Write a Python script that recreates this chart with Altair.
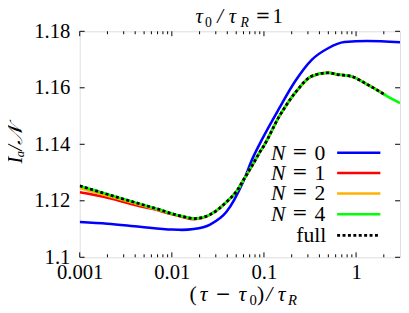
import altair as alt
import pandas as pd

# ---- data ----
full_x = [0.001, 0.002, 0.0045, 0.0075, 0.0101, 0.013, 0.0175, 0.026, 0.039, 0.052, 0.059,
          0.0755, 0.089, 0.1, 0.145, 0.219, 0.33, 0.497, 0.63, 0.88, 1.32, 1.99, 2.08]
full_y = [1.1253, 1.1223, 1.1189, 1.1168, 1.1154, 1.1145, 1.1137, 1.1151, 1.1195, 1.1240, 1.1270,
          1.1328, 1.1369, 1.1395, 1.1496, 1.1583, 1.1641, 1.1653, 1.1647, 1.1641, 1.1612, 1.1578, 1.1574]

n4_x = full_x + [3.0]
n4_y = full_y + [1.1546]

n2_x = [0.001, 0.002, 0.0045, 0.0075, 0.0101] + full_x[5:]
n2_y = [1.1245, 1.1218, 1.1186, 1.1166, 1.1153] + full_y[5:]

n1_x = [0.001, 0.002, 0.0045, 0.0075, 0.0101, 0.013, 0.0175] + full_x[7:]
n1_y = [1.1230, 1.1211, 1.1181, 1.1164, 1.1152, 1.1143, 1.1135] + full_y[7:]

n0_x = [0.001, 0.002, 0.0045, 0.0101, 0.013, 0.0172, 0.026, 0.039, 0.059, 0.0755,
        0.0966, 0.145, 0.219, 0.33, 0.497, 0.746, 1.32, 3.0]
n0_y = [1.1125, 1.1119, 1.1108, 1.1098, 1.1097, 1.1100, 1.1116, 1.1160, 1.1265, 1.1351,
        1.1421, 1.1525, 1.1624, 1.1699, 1.1740, 1.1762, 1.1766, 1.1761]

x_major = [0.001, 0.01, 0.1, 1]
x_minor = [m * d for d in [0.001, 0.01, 0.1, 1] for m in range(2, 10) if m * d < 2.9]
y_major = [1.1, 1.12, 1.14, 1.16, 1.18]

legend_digits = ["0", "1", "2", "4"]
legend_colors = ["#0000ff", "#ff0000", "#ffb000", "#00ff00"]

W, H = 326, 230
FONT = "Liberation Serif, Times New Roman, DejaVu Serif, serif"
SYM = "DejaVu Serif, serif"
FS = 21

xscale = alt.Scale(type="log", domain=[0.001, 3], nice=False)
yscale = alt.Scale(domain=[1.1, 1.18], nice=False, zero=False)


def line(xs, ys, color, width, dash=None, axes=False):
    df = pd.DataFrame({"x": xs, "y": ys})
    kw = dict(color=color, strokeWidth=width, interpolate="monotone", clip=True)
    if dash:
        kw["strokeDash"] = dash
    if axes:
        xenc = alt.X("x:Q", scale=xscale, axis=alt.Axis(
            values=x_major, format="~g", ticks=False, domain=False, grid=False,
            labelFont=FONT, labelFontSize=FS, labelColor="black", labelPadding=5,
            labelFlush=False, title=None))
        yenc = alt.Y("y:Q", scale=yscale, axis=alt.Axis(
            values=y_major, format="~g", ticks=False, domain=False, grid=False,
            labelFont=FONT, labelFontSize=FS, labelColor="black", labelPadding=10,
            labelFlush=False, title=None))
    else:
        xenc = alt.X("x:Q", scale=xscale)
        yenc = alt.Y("y:Q", scale=yscale)
    return alt.Chart(df).mark_line(**kw).encode(x=xenc, y=yenc, order=alt.Order("x:Q"))


layers = [
    line(n0_x, n0_y, "#0000ff", 2.6, axes=True),
    line(n1_x, n1_y, "#ff0000", 2.6),
    line(n2_x, n2_y, "#ffb000", 2.6),
    line(n4_x, n4_y, "#00ff00", 2.6),
    line(full_x, full_y, "black", 2.8, dash=[3, 2.5]),
]

# inward ticks
def xticks(vals, length):
    df = pd.DataFrame({"t": vals})
    bot = alt.Chart(df).mark_rule(color="black", strokeWidth=1).encode(
        x=alt.X("t:Q", scale=xscale), y=alt.value(H), y2=alt.value(H - length))
    top = alt.Chart(df).mark_rule(color="black", strokeWidth=1).encode(
        x=alt.X("t:Q", scale=xscale), y=alt.value(0), y2=alt.value(length))
    return [bot, top]

ydf = pd.DataFrame({"v": y_major})
yt_left = alt.Chart(ydf).mark_rule(color="black", strokeWidth=1).encode(
    y=alt.Y("v:Q", scale=yscale), x=alt.value(0), x2=alt.value(5))
yt_right = alt.Chart(ydf).mark_rule(color="black", strokeWidth=1).encode(
    y=alt.Y("v:Q", scale=yscale), x=alt.value(W), x2=alt.value(W - 5))

layers += xticks(x_major, 5) + xticks(x_minor, 3) + [yt_left, yt_right]


def txt(s, x, y, size=FS, style="normal", align="center", baseline="alphabetic",
        angle=0, font=FONT):
    kw = dict(font=font, fontSize=size, fontStyle=style, align=align,
              baseline=baseline, color="black")
    if angle:
        kw["angle"] = angle
    return alt.Chart(pd.DataFrame({"s": [s]})).mark_text(**kw).encode(
        text="s:N", x=alt.value(x), y=alt.value(y))

# title  τ0/τR = 1  (pieces placed like the typeset original)
TB = -8
layers += [
    txt("τ", 121.5, TB, size=21, style="italic"),
    txt("0", 131, TB + 4, size=14),
    txt("/", 143, TB, size=21, style="italic"),
    txt("τ", 155.5, TB, size=21, style="italic"),
    txt("R", 168, TB + 4, size=14, style="italic"),
    txt("=", 186.5, TB - 1, size=18, font=SYM),
    txt("1", 201.5, TB, size=21),
]
# x title (τ − τ0)/τR
XB = 274
layers += [
    txt("(", 115.5, XB, size=22),
    txt("τ", 126, XB, size=22, style="italic"),
    txt("−", 146, XB - 1, size=19, font=SYM),
    txt("τ", 165.5, XB, size=22, style="italic"),
    txt("0", 176.5, XB + 4.5, size=15),
    txt(")", 184, XB, size=22),
    txt("/", 193, XB, size=22, style="italic"),
    txt("τ", 205.5, XB, size=22, style="italic"),
    txt("R", 216.5, XB + 4.5, size=15, style="italic"),
]
# y title
layers += [txt("Iₐ/𝒩", -65, 115, size=21, style="italic", baseline="middle", angle=270)]

# legend
row_y = [123.7, 144.3, 165.0, 186.3, 207.7]
for i, (dig, col) in enumerate(zip(legend_digits, legend_colors)):
    layers += [
        txt("N", 202, row_y[i], size=22, style="italic", baseline="middle"),
        txt("=", 224, row_y[i] - 1, size=19, baseline="middle", font=SYM),
        txt(dig, 244.5, row_y[i], size=22, baseline="middle"),
        alt.Chart(pd.DataFrame({"a": [0]})).mark_rule(color=col, strokeWidth=2.6).encode(
            x=alt.value(262), x2=alt.value(306), y=alt.value(row_y[i])),
    ]
layers += [
    txt("full", 251, row_y[4], size=22, align="right", baseline="middle"),
    alt.Chart(pd.DataFrame({"a": [0]})).mark_rule(color="black", strokeWidth=2.8,
                                                   strokeDash=[3, 2.5]).encode(
        x=alt.value(262), x2=alt.value(306), y=alt.value(row_y[4])),
]

chart = alt.layer(*layers).properties(
    width=W, height=H,
    autosize=alt.AutoSizeParams(type="none"),
    padding={"left": 73, "top": 21, "right": 1, "bottom": 54},
).configure_view(stroke="black", strokeWidth=1).configure(background="white")

chart.save("out.html", embed_options={"renderer": "svg", "actions": False})
